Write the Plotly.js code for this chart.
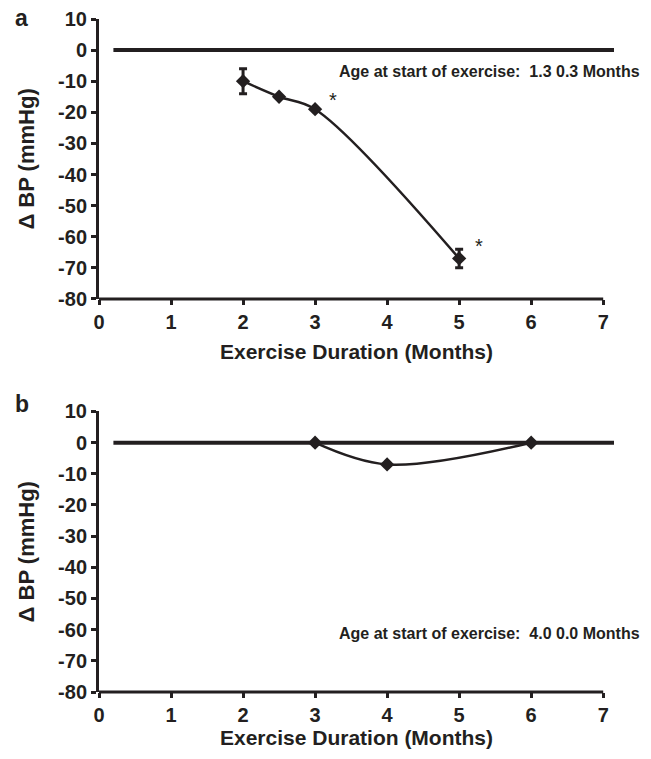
<!DOCTYPE html>
<html>
<head>
<meta charset="utf-8">
<script src="https://cdn.plot.ly/plotly-3.0.1.min.js"></script>
<style>html,body{margin:0;padding:0;background:#fff;}#chart{width:651px;height:759px;}</style>
</head>
<body>
<div id="chart"></div>
<script>
// Panel a data
var durationA = [2, 2.5, 3, 5];
var bpA = [-10, -15, -19, -67];
var errA = [4, 0, 0, 3];
// Panel b data
var durationB = [3, 4, 6];
var bpB = [0, -7, 0];
// Reference (zero) lines
var zeroLineX = [0.2, 7.15];
var zeroLineY = [0, 0];
// Significance markers (panel a)
var starX = [3.25, 5.28];
var starY = [-16, -63];
// Tick labels
var xTicks = [0, 1, 2, 3, 4, 5, 6, 7];
var yTicks = [10, 0, -10, -20, -30, -40, -50, -60, -70, -80];
var noteA = 'Age at start of exercise:  1.3 0.3 Months';
var noteB = 'Age at start of exercise:  4.0 0.0 Months';

var ink = '#231f20';
var fontFam = 'Liberation Sans, Arial, sans-serif';

var traces = [
  {x: zeroLineX, y: zeroLineY, xaxis: 'x', yaxis: 'y', mode: 'lines',
   line: {color: ink, width: 4}, hoverinfo: 'skip'},
  {x: durationA, y: bpA, xaxis: 'x', yaxis: 'y', mode: 'lines+markers',
   line: {color: ink, width: 2.5, shape: 'spline'},
   marker: {symbol: 'diamond', size: 11, color: ink},
   error_y: {type: 'data', array: errA, visible: true, color: ink, thickness: 3, width: 4}},
  {x: zeroLineX, y: zeroLineY, xaxis: 'x2', yaxis: 'y2', mode: 'lines',
   line: {color: ink, width: 4}, hoverinfo: 'skip'},
  {x: durationB, y: bpB, xaxis: 'x2', yaxis: 'y2', mode: 'lines+markers',
   line: {color: ink, width: 2.5, shape: 'spline'},
   marker: {symbol: 'diamond', size: 11, color: ink}}
];

function bold(v) { return '<b>' + v + '</b>'; }

function xAxis(anchor, standoff) {
  return {
    anchor: anchor, domain: [0, 1], range: [0, 7.15],
    tickvals: xTicks, ticktext: xTicks.map(bold),
    ticks: 'outside', ticklen: 5, tickwidth: 3, tickcolor: ink,
    showline: false, showgrid: false, zeroline: false,
    tickfont: {family: fontFam, size: 20, color: ink, weight: 700},
    title: {text: '<b>Exercise Duration (Months)</b>', font: {family: fontFam, size: 21, color: ink}, standoff: standoff}
  };
}
function yAxis(anchor, domain) {
  return {
    anchor: anchor, domain: domain, range: [-80, 10],
    tickvals: yTicks, ticktext: yTicks.map(bold),
    ticks: 'outside', ticklen: 5, tickwidth: 3, tickcolor: ink,
    showline: true, linewidth: 3, linecolor: ink,
    showgrid: false, zeroline: false,
    tickfont: {family: fontFam, size: 20, color: ink, weight: 700},
    title: {text: '<b>\u0394 BP (mmHg)</b>', font: {family: fontFam, size: 22, color: ink}, standoff: 18}
  };
}

var layout = {
  width: 651, height: 759,
  margin: {l: 99, r: 37, t: 19, b: 67},
  paper_bgcolor: '#fff', plot_bgcolor: '#fff',
  showlegend: false,
  xaxis: xAxis('y', 12),
  yaxis: yAxis('x', [0.5841, 1]),
  xaxis2: xAxis('y2', 3),
  yaxis2: yAxis('x2', [0, 0.4168]),
  shapes: [
    {type: 'line', xref: 'x', yref: 'y domain', x0: 0, x1: 7, y0: 0, y1: 0, line: {color: ink, width: 3}},
    {type: 'line', xref: 'x2', yref: 'y2 domain', x0: 0, x1: 7, y0: 0, y1: 0, line: {color: ink, width: 3}}
  ],
  annotations: [
    {xref: 'x', yref: 'y', x: 5.42, y: -7, text: bold(noteA), showarrow: false,
     font: {family: fontFam, size: 16, color: ink}},
    {xref: 'x2', yref: 'y2', x: 5.42, y: -61.2, text: bold(noteB), showarrow: false,
     font: {family: fontFam, size: 16, color: ink}},
    {xref: 'x', yref: 'y', x: starX[0], y: starY[0], text: '*', showarrow: false,
     font: {family: fontFam, size: 20, color: ink}},
    {xref: 'x', yref: 'y', x: starX[1], y: starY[1], text: '*', showarrow: false,
     font: {family: fontFam, size: 20, color: ink}},
    {xref: 'paper', yref: 'paper', x: -0.167, y: 1.0015, xanchor: 'left', yanchor: 'middle', text: '<b>a</b>', showarrow: false,
     font: {family: fontFam, size: 23, color: ink}},
    {xref: 'paper', yref: 'paper', x: -0.167, y: 0.4282, xanchor: 'left', yanchor: 'middle', text: '<b>b</b>', showarrow: false,
     font: {family: fontFam, size: 23, color: ink}}
  ]
};

Plotly.newPlot('chart', traces, layout, {displayModeBar: false, staticPlot: true});
</script>
</body>
</html>
